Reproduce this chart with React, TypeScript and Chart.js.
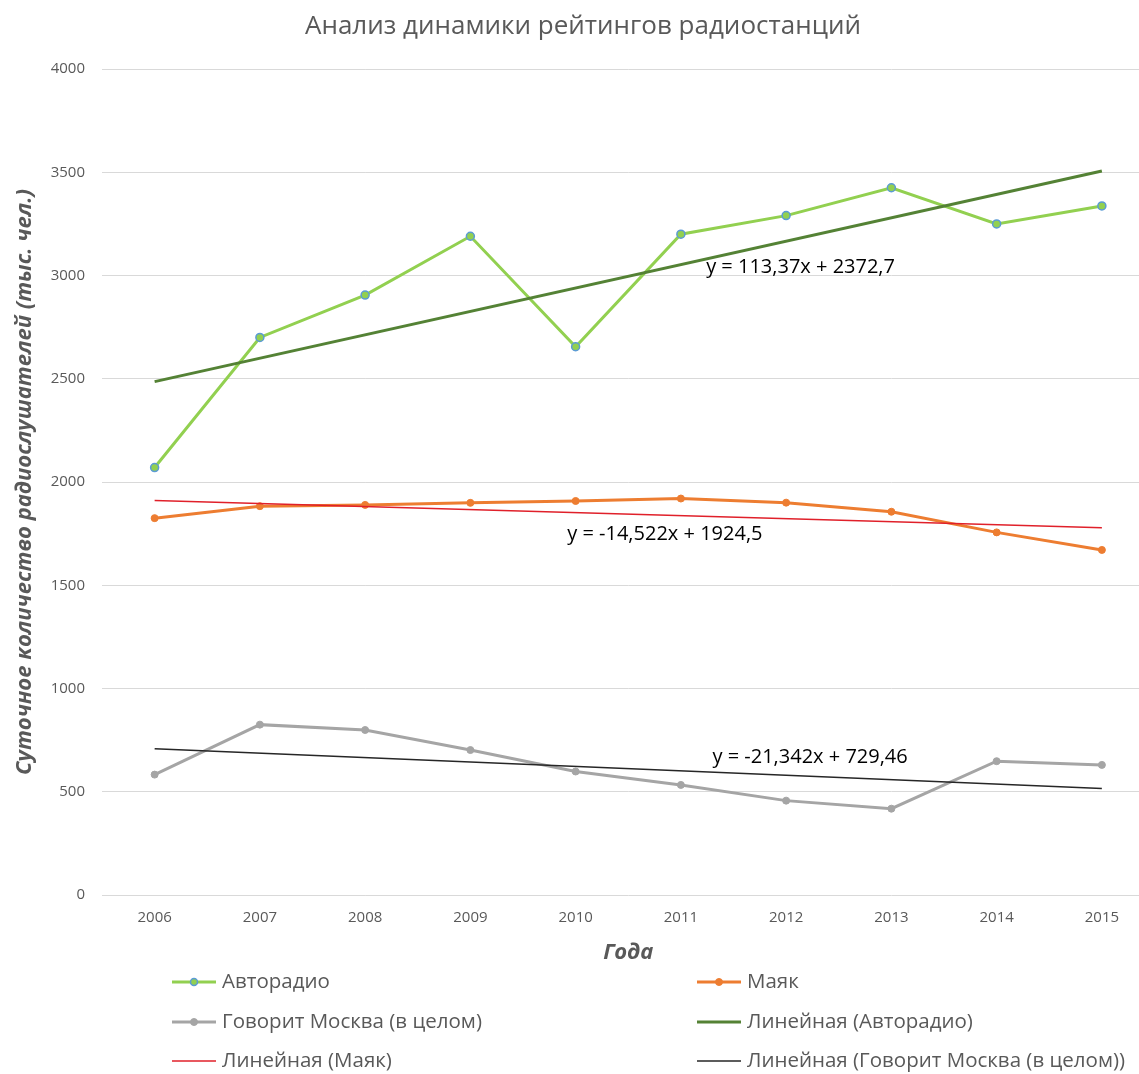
import React, { useEffect, useRef } from "react";
import { Chart, registerables } from "chart.js";

Chart.register(...registerables);

const years = ["2006", "2007", "2008", "2009", "2010", "2011", "2012", "2013", "2014", "2015"];
const avtoradio = [2070, 2700, 2905, 3190, 2655, 3200, 3290, 3425, 3250, 3337];
const mayak = [1825, 1883, 1889, 1899, 1908, 1920, 1900, 1856, 1756, 1671];
const moskva = [583, 825, 799, 702, 598, 533, 457, 418, 648, 630];
const trendAvtoradio = [2486, null, null, null, null, null, null, null, null, 3506];
const trendMayak = [1910, null, null, null, null, null, null, null, null, 1779];
const trendMoskva = [708, null, null, null, null, null, null, null, null, 516];
const equations = ["y = 113,37x + 2372,7", "y = -14,522x + 1924,5", "y = -21,342x + 729,46"];
const seriesNames = [
  "Авторадио",
  "Маяк",
  "Говорит Москва (в целом)",
  "Линейная (Авторадио)",
  "Линейная (Маяк)",
  "Линейная (Говорит Москва (в целом))",
];
const chartTitle = "Анализ динамики рейтингов радиостанций";
const yTitle = "Суточное количество радиослушателей (тыс. чел.)";
const xTitle = "Года";

const FONT = "'Open Sans', 'Noto Sans', sans-serif";

const overlayPlugin = {
  id: "overlay",
  afterDraw(chart: any) {
    const ctx = chart.ctx;
    const xs = chart.scales.x;
    const ys = chart.scales.y;
    ctx.save();
    // title
    ctx.fillStyle = "#595959";
    ctx.font = `26px ${FONT}`;
    ctx.textAlign = "center";
    ctx.textBaseline = "middle";
    ctx.fillText(chartTitle, 583, 27);

    // equation labels (anchored in data coordinates)
    const anchors = [
      { x: 5.24, y: 3041 },
      { x: 3.92, y: 1748 },
      { x: 5.3, y: 668 },
    ];
    ctx.fillStyle = "#000000";
    ctx.font = `20px ${FONT}`;
    ctx.textAlign = "left";
    equations.forEach((t, i) => {
      ctx.fillText(t, xs.getPixelForValue(anchors[i].x), ys.getPixelForValue(anchors[i].y));
    });

    // legend: 2 columns x 3 rows
    const cols = [172, 697];
    const rows = [982, 1022, 1061];
    ctx.font = `20.5px ${FONT}`;
    ctx.textBaseline = "middle";
    chart.data.datasets.forEach((ds: any, i: number) => {
      const cx = cols[i % 2];
      const cy = rows[Math.floor(i / 2)];
      ctx.strokeStyle = ds.borderColor;
      ctx.lineWidth = ds.borderWidth;
      ctx.beginPath();
      ctx.moveTo(cx, cy);
      ctx.lineTo(cx + 44, cy);
      ctx.stroke();
      if (ds.pointRadius > 0) {
        ctx.beginPath();
        ctx.arc(cx + 22, cy, 3.5, 0, Math.PI * 2);
        ctx.fillStyle = ds.pointBackgroundColor;
        ctx.fill();
        ctx.lineWidth = ds.pointBorderWidth;
        ctx.strokeStyle = ds.pointBorderColor;
        ctx.stroke();
      }
      ctx.fillStyle = "#595959";
      ctx.fillText(ds.label, cx + 50, cy);
    });
    ctx.restore();
  },
};

export default function App() {
  const ref = useRef<HTMLCanvasElement | null>(null);
  useEffect(() => {
    if (!ref.current) return;
    const chart = new Chart(ref.current, {
      type: "line",
      data: {
        labels: years,
        datasets: [
          {
            label: seriesNames[0],
            data: avtoradio,
            borderColor: "#92D050",
            borderWidth: 3,
            pointRadius: 4,
            pointBackgroundColor: "#92D050",
            pointBorderColor: "#5B9BD5",
            pointBorderWidth: 1.5,
            order: 2,
          },
          {
            label: seriesNames[1],
            data: mayak,
            borderColor: "#ED7D31",
            borderWidth: 3,
            pointRadius: 3.5,
            pointBackgroundColor: "#ED7D31",
            pointBorderColor: "#ED7D31",
            pointBorderWidth: 1,
            order: 2,
          },
          {
            label: seriesNames[2],
            data: moskva,
            borderColor: "#A5A5A5",
            borderWidth: 3,
            pointRadius: 3.5,
            pointBackgroundColor: "#A5A5A5",
            pointBorderColor: "#A5A5A5",
            pointBorderWidth: 1,
            order: 2,
          },
          {
            label: seriesNames[3],
            data: trendAvtoradio,
            borderColor: "#548235",
            borderWidth: 3,
            pointRadius: 0,
            spanGaps: true,
            order: 1,
          },
          {
            label: seriesNames[4],
            data: trendMayak,
            borderColor: "#E0202A",
            borderWidth: 1.5,
            pointRadius: 0,
            spanGaps: true,
            order: 1,
          },
          {
            label: seriesNames[5],
            data: trendMoskva,
            borderColor: "#262626",
            borderWidth: 1.5,
            pointRadius: 0,
            spanGaps: true,
            order: 1,
          },
        ],
      },
      options: {
        responsive: false,
        maintainAspectRatio: false,
        devicePixelRatio: 1,
        animation: false,
        layout: { padding: { top: 69, right: 3, bottom: 99, left: 0 } },
        plugins: {
          legend: { display: false },
          title: { display: false },
          tooltip: { enabled: false },
        },
        scales: {
          x: {
            type: "category",
            offset: true,
            grid: { display: false, drawTicks: false },
            border: { display: false },
            ticks: { color: "#595959", font: { family: FONT, size: 15 }, padding: 14, maxRotation: 0 },
            title: {
              display: true,
              text: xTitle,
              color: "#595959",
              font: { family: FONT, size: 22, weight: "bold", style: "italic" },
              padding: { top: 0, bottom: 9 },
            },
            afterFit: (s: any) => {
              s.height = 80;
            },
          },
          y: {
            min: 0,
            max: 4000,
            grid: { color: "#D9D9D9", lineWidth: 1, drawTicks: false },
            border: { display: false },
            ticks: {
              stepSize: 500,
              color: "#595959",
              font: { family: FONT, size: 15 },
              padding: 17,
              callback: (v: any) => String(v),
            },
            title: {
              display: true,
              text: yTitle,
              color: "#595959",
              font: { family: FONT, size: 22, weight: "bold", style: "italic" },
              padding: { top: 12, bottom: 0 },
            },
            afterFit: (s: any) => {
              s.width = 102;
            },
          },
        },
      },
      plugins: [overlayPlugin],
    });
    return () => chart.destroy();
  }, []);
  return (
    <div
      style={{
        position: "fixed",
        left: 0,
        top: 0,
        width: 1139,
        height: 1074,
        overflow: "hidden",
        background: "#ffffff",
      }}
    >
      <canvas ref={ref} width={1160} height={1074} style={{ display: "block", width: 1160, height: 1074 }} />
    </div>
  );
}
